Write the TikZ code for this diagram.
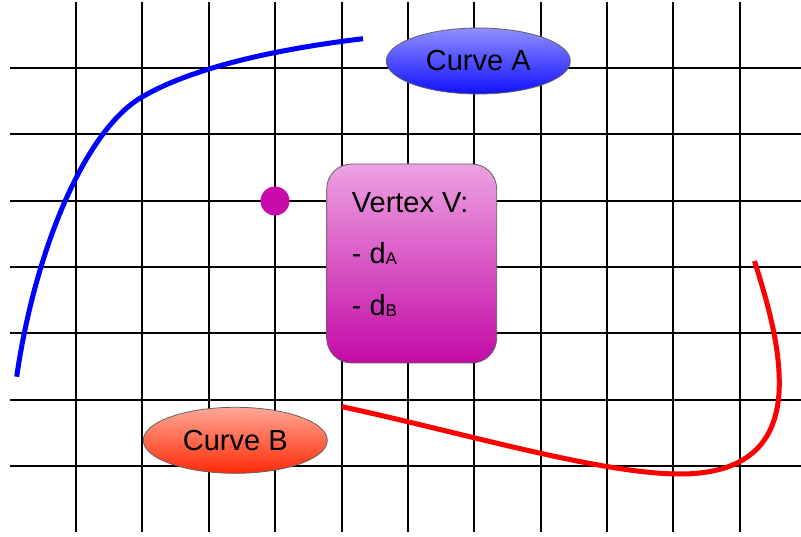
\documentclass[tikz,border=0pt]{standalone}
\usepackage{fontspec}
\setmainfont{Liberation Sans}
\usetikzlibrary{shapes.geometric}
\definecolor{aTop}{HTML}{8F8FFF}
\definecolor{aBot}{HTML}{1010FF}
\definecolor{bTop}{HTML}{FFA894}
\definecolor{bBot}{HTML}{FF2A08}
\definecolor{vTop}{HTML}{ECA2E2}
\definecolor{vBot}{HTML}{C40AA6}
\definecolor{dotCol}{HTML}{C80AAA}
\definecolor{edgeCol}{HTML}{606060}
\begin{document}
\begin{tikzpicture}[x=1pt,y=-1pt,
  gridline/.style={line width=2pt, black},
  txt/.style={font=\fontsize{29}{34}\selectfont, inner sep=0pt, text=black},
  curvelabel/.style={ellipse, draw=edgeCol, line width=0.8pt, inner sep=0pt,
      minimum width=184, minimum height=66, font=\fontsize{29}{34}\selectfont},
  thickcurve/.style={line width=5pt}
]
\useasboundingbox (0,0) rectangle (801,537);
% grid
\foreach \x in {76,142,209,275,342,408,474,541,607,673,740} \draw[gridline] (\x,2) -- (\x,532);
\foreach \y in {68,134,201,267,333,400,466} \draw[gridline] (10,\y) -- (801,\y);
% curve A (blue)
\coordinate (a0) at (16.7,376.7);
\coordinate (a1) at (142,97);
\coordinate (a2) at (363,38.7);
\draw[thickcurve, blue] (a0) .. controls (35,250) and (85,130) .. (a1)
   .. controls (195,66) and (283,48.3) .. (a2);
% curve B (red)
\coordinate (b0) at (342,406.7);
\coordinate (b1) at (680,474);
\coordinate (b2) at (779.3,383.3);
\coordinate (b3) at (754.5,261);
\draw[thickcurve, red] (b0) .. controls (460,432) and (600,474) .. (b1)
   .. controls (750,474) and (779.3,440) .. (b2)
   .. controls (779.3,340) and (765,295) .. (b3);
% labels
\node[curvelabel, top color=aTop, bottom color=aBot] (curveA) at (478.3,61) {Curve A};
\node[curvelabel, top color=bTop, bottom color=bBot] (curveB) at (235.3,440.3) {Curve B};
% vertex point
\node[circle, fill=dotCol, minimum size=29, inner sep=0pt] (vdot) at (275,201) {};
% vertex box
\node[draw=edgeCol, line width=0.8pt, rounded corners=25pt, minimum width=170, minimum height=199,
      top color=vTop, bottom color=vBot, inner sep=0pt] (vbox) at (411.7,263.5) {};
\node[txt, anchor=base west] (vtitle) at (351.7,212.3) {Vertex V:};
\node[txt, anchor=base west] (vda) at (351.7,263.3) {- d\raisebox{-1pt}{\fontsize{17}{19}\selectfont A}};
\node[txt, anchor=base west] (vdb) at (351.7,316) {- d\raisebox{-1pt}{\fontsize{17}{19}\selectfont B}};
\end{tikzpicture}
\end{document}
